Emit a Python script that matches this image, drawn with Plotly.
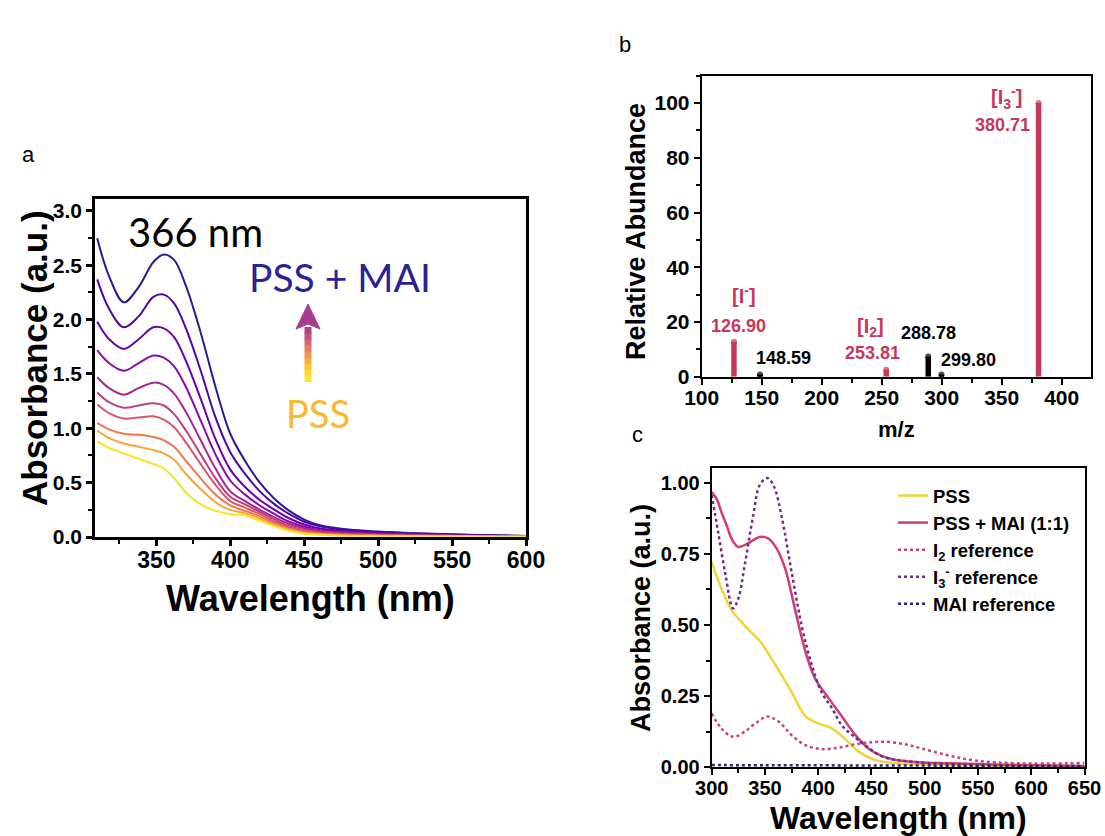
import plotly.graph_objects as go

W, H = 1105, 836
FONT = "Liberation Sans, Arial, sans-serif"

# ---------------- Panel a data ----------------
wl_a = [310, 318, 328, 338, 348, 355, 362, 370, 380, 390, 400, 410, 420, 430, 440, 450, 460, 475, 500, 525, 550, 575, 600]
spec_1 = [2.75, 2.40, 2.16, 2.30, 2.53, 2.60, 2.55, 2.31, 1.88, 1.38, 0.95, 0.70, 0.50, 0.35, 0.24, 0.16, 0.11, 0.075, 0.05, 0.035, 0.025, 0.017, 0.010]
spec_2 = [2.37, 2.10, 1.93, 2.03, 2.21, 2.23, 2.15, 1.92, 1.53, 1.10, 0.78, 0.58, 0.42, 0.30, 0.21, 0.14, 0.10, 0.068, 0.045, 0.032, 0.022, 0.015, 0.010]
spec_3 = [1.98, 1.82, 1.73, 1.82, 1.93, 1.92, 1.84, 1.62, 1.27, 0.90, 0.62, 0.46, 0.34, 0.25, 0.17, 0.115, 0.08, 0.055, 0.036, 0.025, 0.018, 0.012, 0.008]
spec_4 = [1.72, 1.60, 1.53, 1.60, 1.67, 1.65, 1.57, 1.38, 1.07, 0.76, 0.52, 0.39, 0.29, 0.21, 0.14, 0.095, 0.065, 0.045, 0.03, 0.02, 0.015, 0.01, 0.007]
spec_5 = [1.47, 1.37, 1.31, 1.37, 1.42, 1.40, 1.32, 1.15, 0.89, 0.63, 0.42, 0.33, 0.25, 0.18, 0.12, 0.08, 0.055, 0.038, 0.025, 0.018, 0.012, 0.008, 0.005]
spec_6 = [1.33, 1.24, 1.19, 1.21, 1.23, 1.21, 1.13, 0.98, 0.76, 0.54, 0.37, 0.30, 0.23, 0.16, 0.10, 0.065, 0.045, 0.03, 0.02, 0.014, 0.01, 0.007, 0.005]
spec_7 = [1.22, 1.14, 1.09, 1.10, 1.11, 1.08, 1.01, 0.87, 0.67, 0.48, 0.33, 0.27, 0.21, 0.14, 0.09, 0.055, 0.038, 0.025, 0.016, 0.012, 0.008, 0.006, 0.004]
spec_8 = [1.05, 0.99, 0.95, 0.94, 0.92, 0.89, 0.83, 0.70, 0.54, 0.39, 0.29, 0.24, 0.19, 0.12, 0.075, 0.045, 0.03, 0.02, 0.013, 0.01, 0.007, 0.005, 0.003]
spec_9 = [0.98, 0.91, 0.86, 0.83, 0.80, 0.77, 0.71, 0.58, 0.44, 0.32, 0.25, 0.22, 0.17, 0.11, 0.065, 0.038, 0.025, 0.016, 0.01, 0.008, 0.006, 0.004, 0.003]
spec_10 = [0.88, 0.82, 0.77, 0.72, 0.67, 0.63, 0.54, 0.41, 0.30, 0.24, 0.21, 0.20, 0.15, 0.10, 0.055, 0.03, 0.02, 0.012, 0.008, 0.006, 0.004, 0.003, 0.002]
colors_a = ["#2a1a94", "#4c08a5", "#6a00a8", "#8a0da5", "#a8268f", "#c23c81",
            "#d8576b", "#ee7752", "#fca338", "#f5e51f"]

# ---------------- Panel b data ----------------
mz_peaks = [126.90, 148.59, 253.81, 288.78, 299.80, 380.71]
mz_abund = [12.8, 0.8, 2.5, 7.4, 0.8, 100.0]
mz_colors = ["#c8375a", "black", "#c8375a", "black", "black", "#c8375a"]

# ---------------- Panel c data ----------------
pss_wl = [300, 310, 319, 328, 338, 346, 353, 363, 375, 388, 400, 413, 425, 438, 453, 470, 500, 550, 600, 650]
pss_ab = [0.72, 0.62, 0.55, 0.51, 0.47, 0.44, 0.40, 0.34, 0.265, 0.18, 0.154, 0.137, 0.10, 0.055, 0.026, 0.015, 0.01, 0.006, 0.004, 0.003]
pssmai_wl = [300, 305, 309, 314, 319, 325, 334, 345, 353, 361, 369, 378, 388, 397, 410, 422, 435, 449, 468, 493, 524, 587, 650]
pssmai_ab = [0.967, 0.94, 0.897, 0.85, 0.80, 0.774, 0.786, 0.809, 0.804, 0.768, 0.698, 0.558, 0.406, 0.312, 0.242, 0.18, 0.113, 0.061, 0.03, 0.018, 0.014, 0.008, 0.005]
i2_wl = [300, 309, 320, 331, 341, 352, 363, 375, 388, 403, 419, 435, 450, 461, 480, 499, 524, 549, 587, 650]
i2_ab = [0.189, 0.137, 0.107, 0.125, 0.154, 0.178, 0.16, 0.113, 0.078, 0.064, 0.069, 0.081, 0.088, 0.09, 0.082, 0.064, 0.04, 0.023, 0.014, 0.015]
i3_wl = [300, 306, 313, 320, 325, 331, 339, 345, 352, 358, 366, 375, 385, 394, 403, 413, 422, 432, 444, 461, 493, 550, 650]
i3_ab = [0.956, 0.827, 0.675, 0.558, 0.593, 0.71, 0.885, 0.99, 1.016, 0.99, 0.874, 0.686, 0.488, 0.359, 0.265, 0.207, 0.148, 0.113, 0.078, 0.037, 0.018, 0.008, 0.003]
mairef_wl = [300, 350, 400, 450, 500, 550, 600, 650]
mairef_ab = [0.008, 0.007, 0.007, 0.006, 0.006, 0.005, 0.005, 0.005]


def PX(x):
    return x / W


def PY(y):
    return 1 - y / H


fig = go.Figure()

# Panel a
for spec, col in zip([spec_1, spec_2, spec_3, spec_4, spec_5, spec_6, spec_7, spec_8, spec_9, spec_10], colors_a):
    fig.add_trace(go.Scatter(x=wl_a, y=spec, xaxis="x", yaxis="y", mode="lines",
                             line=dict(color=col, width=2, shape="spline", smoothing=1),
                             showlegend=False, hoverinfo="skip"))

# Panel b
for m, a, col in zip(mz_peaks, mz_abund, mz_colors):
    fig.add_trace(go.Scatter(x=[m, m], y=[0, a], xaxis="x2", yaxis="y2", mode="lines+markers",
                             line=dict(color=col, width=5.5),
                             marker=dict(size=[0, 6], color=col, line=dict(width=0)),
                             showlegend=False, cliponaxis=False, hoverinfo="skip"))

# Panel c
fig.add_trace(go.Scatter(x=pss_wl, y=pss_ab, xaxis="x3", yaxis="y3", mode="lines", name="PSS",
                         line=dict(color="#f0d43c", width=2.5, shape="spline")))
fig.add_trace(go.Scatter(x=pssmai_wl, y=pssmai_ab, xaxis="x3", yaxis="y3", mode="lines", name="PSS + MAI (1:1)",
                         line=dict(color="#cf3e6e", width=2.5, shape="spline")))
fig.add_trace(go.Scatter(x=i2_wl, y=i2_ab, xaxis="x3", yaxis="y3", mode="lines", name="I<sub>2</sub> reference",
                         line=dict(color="#c4457e", width=2.5, dash="dot", shape="spline")))
fig.add_trace(go.Scatter(x=i3_wl, y=i3_ab, xaxis="x3", yaxis="y3", mode="lines", name="I<sub>3</sub><sup>-</sup> reference",
                         line=dict(color="#6f2a98", width=2.5, dash="dot", shape="spline")))
fig.add_trace(go.Scatter(x=mairef_wl, y=mairef_ab, xaxis="x3", yaxis="y3", mode="lines", name="MAI reference",
                         line=dict(color="#2b2a6e", width=2.5, dash="dot", shape="spline")))


def axis_common(lw, tickfs, minor_dtick, ticklen=7, standoff=0):
    return dict(showline=True, linecolor="black", linewidth=lw, mirror=True,
                ticks="outside", ticklen=ticklen, tickwidth=lw, tickcolor="black",
                showgrid=False, zeroline=False, automargin=False,
                ticklabelstandoff=standoff,
                tickfont=dict(family=FONT, size=tickfs, color="black", weight="bold"),
                minor=dict(dtick=minor_dtick, ticks="outside", ticklen=4, tickwidth=lw * 0.8,
                           tickcolor="black", showgrid=False))


xa = axis_common(2.5, 23, 25, ticklen=6, standoff=-5)
xa.update(domain=[PX(95), PX(526)], range=[308.5, 600], anchor="y", tick0=350, dtick=50)
ya = axis_common(2.5, 21, 0.25, ticklen=6)
ya.update(domain=[PY(537), PY(199)], range=[0, 3.11], anchor="x", tick0=0, dtick=0.5, tickformat=".1f")

xb = axis_common(2, 21, 25, ticklen=6, standoff=-5)
xb.update(domain=[PX(701.7), PX(1090.5)], range=[100, 424], anchor="y2", tick0=100, dtick=50)
yb = axis_common(2, 21, 10, ticklen=6)
yb.update(domain=[PY(376.7), PY(75.7)], range=[0, 110], anchor="x2", tick0=0, dtick=20)

xc = axis_common(2, 20, 25, ticklen=6, standoff=-4)
xc.update(domain=[PX(711.7), PX(1084.5)], range=[300, 650], anchor="y3", tick0=300, dtick=50)
yc = axis_common(2, 20, 0.125, ticklen=6)
yc.update(domain=[PY(767.3), PY(468.3)], range=[0, 1.05], anchor="x3", tick0=0, dtick=0.25, tickformat=".2f")

annotations = []


def txt(x, y, s, size, color="black", bold=True, angle=0, family=FONT, xref="paper", yref="paper"):
    annotations.append(dict(x=x, y=y, xref=xref, yref=yref, text=s, showarrow=False,
                            textangle=angle, xanchor="center", yanchor="middle",
                            font=dict(family=family, size=size, color=color,
                                      weight="bold" if bold else "normal")))


# axis titles
txt(PX(310), PY(598), "Wavelength (nm)", 36)
txt(PX(35), PY(358), "Absorbance (a.u.)", 35, angle=-90)
txt(PX(636), PY(232), "Relative Abundance", 27, angle=-90)
txt(PX(896), PY(430), "m/z", 22)
txt(PX(641), PY(618), "Absorbance (a.u.)", 27, angle=-90)
txt(PX(898), PY(818), "Wavelength (nm)", 32)

# panel letters
txt(PX(28), PY(155), "a", 22, bold=False)
txt(PX(625), PY(45), "b", 22, bold=False)
txt(PX(638), PY(434), "c", 22, bold=False)

# panel a annotations
CAL = "Lato, Open Sans, sans-serif"
txt(PX(195), PY(232), "366 nm", 40, bold=False, family=CAL)
txt(PX(340), PY(277), "PSS + MAI", 39, color="#2d1f95", bold=False, family=CAL)
txt(PX(318), PY(413), "PSS", 38, color="#fbb832", bold=False, family=CAL)

# panel b peak labels (data coordinates)
red = "#c8375a"
num_fs = 18
br_fs = 20
txt(135.3, 29.9, "[I<sup>-</sup>]", br_fs, color=red, xref="x2", yref="y2")
txt(130.3, 18.5, "126.90", num_fs, color=red, xref="x2", yref="y2")
txt(167.8, 6.8, "148.59", num_fs, xref="x2", yref="y2")
txt(241.0, 17.8, "[I<sub>2</sub>]", br_fs, color=red, xref="x2", yref="y2")
txt(242.0, 8.7, "253.81", num_fs, color=red, xref="x2", yref="y2")
txt(289.4, 16.0, "288.78", num_fs, xref="x2", yref="y2")
txt(322.0, 6.1, "299.80", num_fs, xref="x2", yref="y2")
txt(353.6, 101.9, "[I<sub>3</sub><sup>-</sup>]", br_fs, color=red, xref="x2", yref="y2")
txt(351.0, 92.0, "380.71", num_fs, color=red, xref="x2", yref="y2")

# gradient arrow in panel a (decoration)
shapes = []
arrow_cols = ["#b2418a", "#c44f80", "#d66474", "#e57b62", "#f09450", "#f6ac40", "#f9c636", "#fbdc2e", "#fce82a"]
top, bot = 327, 382
n = len(arrow_cols)
for i, c in enumerate(arrow_cols):
    y0 = top + (bot - top) * i / n
    y1 = top + (bot - top) * (i + 1) / n + 0.8
    shapes.append(dict(type="line", xref="paper", yref="paper", x0=PX(308), x1=PX(308),
                       y0=PY(y0), y1=PY(min(y1, bot)), line=dict(color=c, width=7)))
shapes.append(dict(type="path", xref="paper", yref="paper",
                   path=f"M {PX(296)},{PY(329)} L {PX(308)},{PY(304)} L {PX(320)},{PY(329)} L {PX(308)},{PY(324)} Z",
                   fillcolor="#a93c8e", line=dict(color="#a93c8e", width=1)))

fig.update_layout(
    template="none",
    width=W, height=H,
    margin=dict(l=0, r=0, t=0, b=0, pad=0, autoexpand=False),
    paper_bgcolor="white", plot_bgcolor="white",
    xaxis=xa, yaxis=ya, xaxis2=xb, yaxis2=yb, xaxis3=xc, yaxis3=yc,
    annotations=annotations, shapes=shapes,
    showlegend=True,
    legend=dict(x=PX(893), y=PY(477), xanchor="left", yanchor="top",
                bgcolor="rgba(0,0,0,0)", borderwidth=0, tracegroupgap=0,
                font=dict(family=FONT, size=18.5, color="black", weight="bold")),
)

fig.write_html("out.html")
